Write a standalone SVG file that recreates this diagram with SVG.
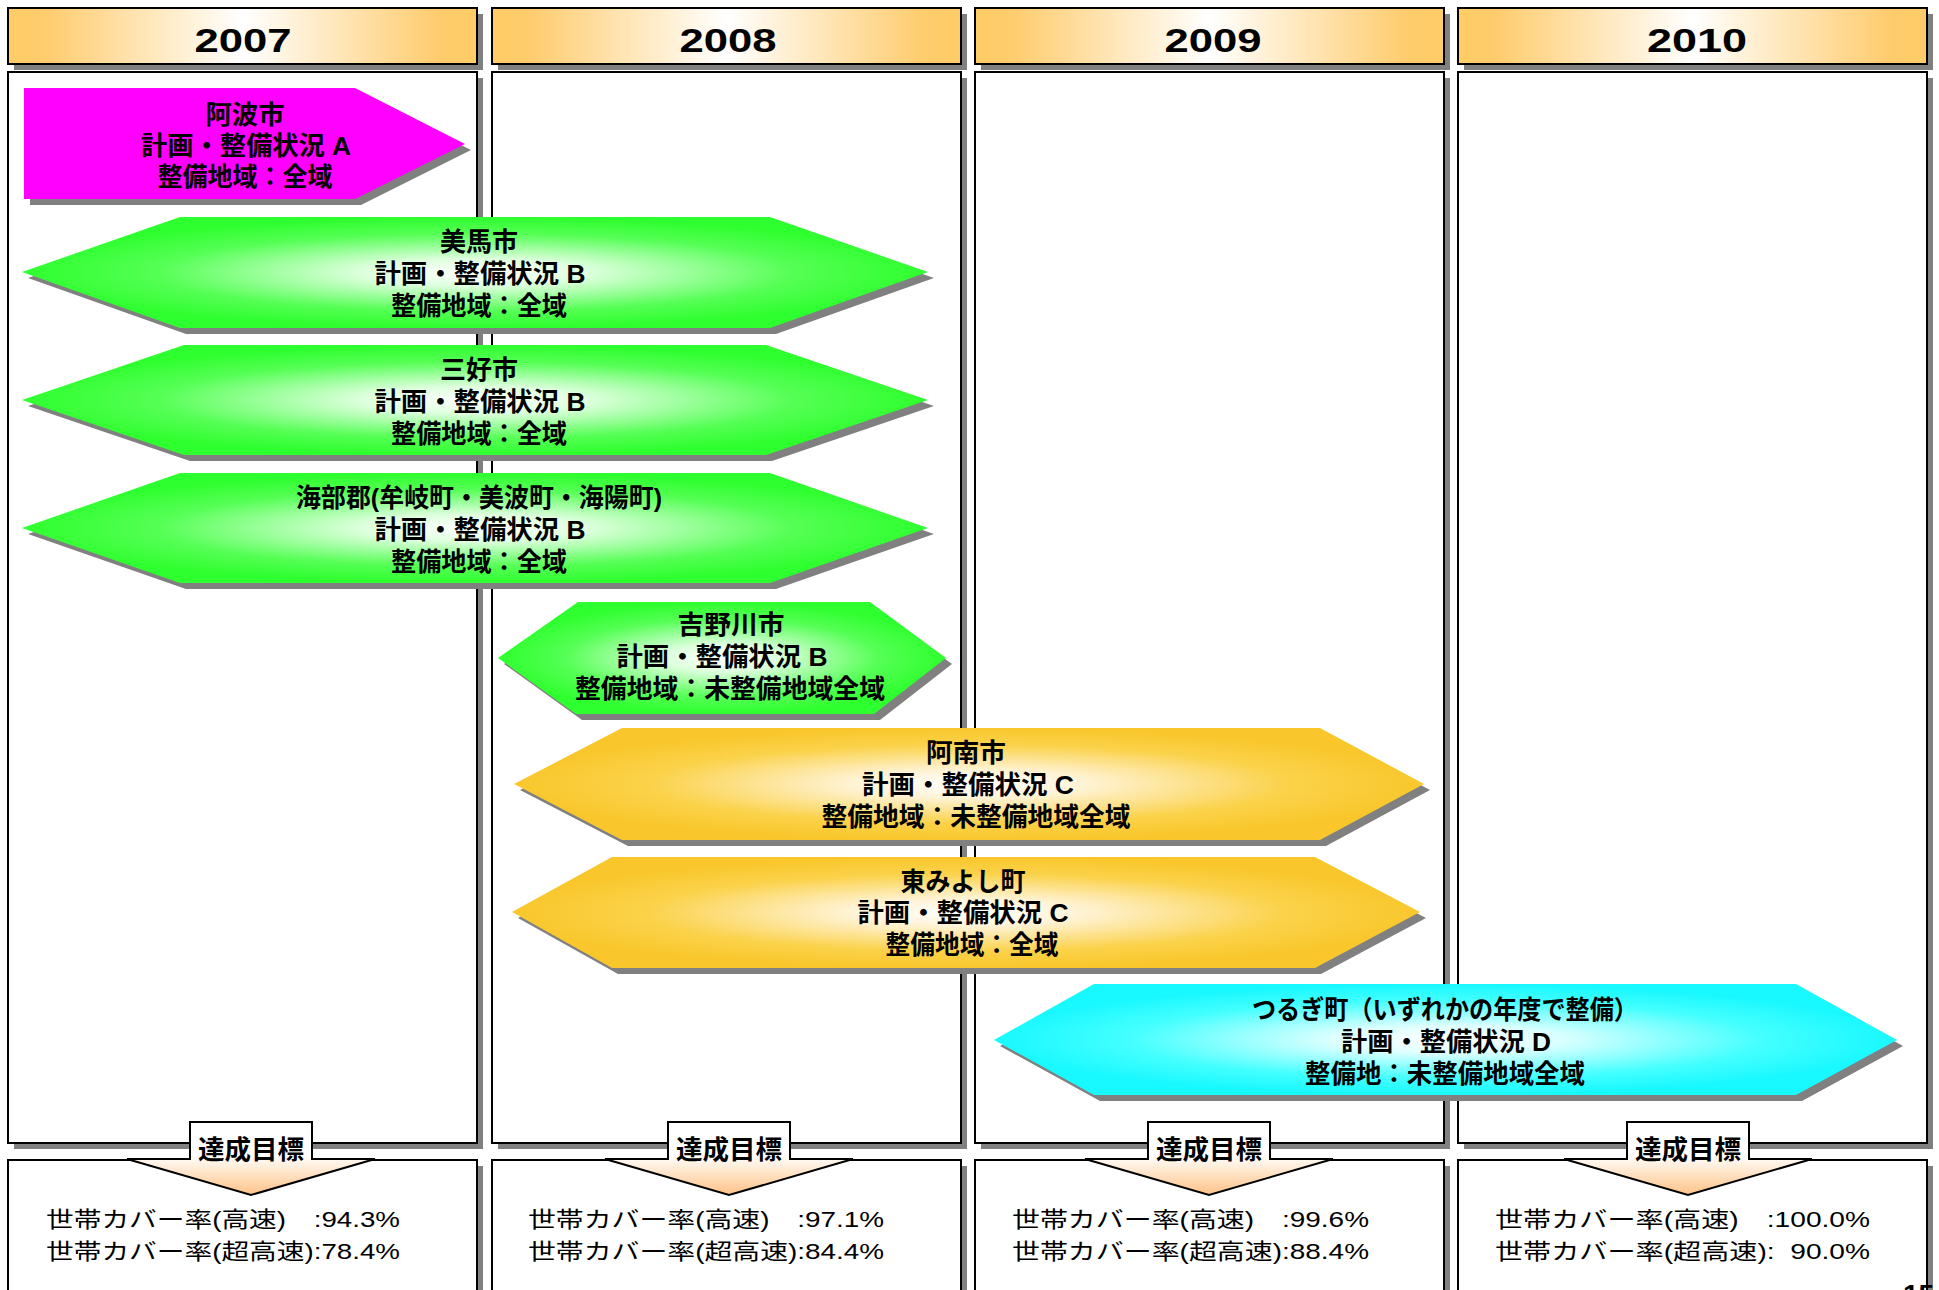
<svg xmlns="http://www.w3.org/2000/svg" width="1939" height="1290" viewBox="0 0 1939 1290">
<defs>
<linearGradient id="hdr" x1="0" y1="0" x2="1" y2="0">
<stop offset="0" stop-color="#FFCC66"/>
<stop offset="0.08" stop-color="#FFCC6E"/>
<stop offset="0.5" stop-color="#FFFFFF"/>
<stop offset="0.92" stop-color="#FFCC6E"/>
<stop offset="1" stop-color="#FFCC66"/>
</linearGradient>
<radialGradient id="grn" cx="0.5" cy="0.5" r="0.5">
<stop offset="0" stop-color="#FFFFFF"/>
<stop offset="0.25" stop-color="#DDFFDD"/>
<stop offset="0.7" stop-color="#55FF55"/>
<stop offset="1" stop-color="#2EFF2E"/>
</radialGradient>
<radialGradient id="org" cx="0.5" cy="0.5" r="0.5">
<stop offset="0" stop-color="#FFFFFF"/>
<stop offset="0.25" stop-color="#FFF3D6"/>
<stop offset="0.7" stop-color="#FBD24A"/>
<stop offset="1" stop-color="#F9C72C"/>
</radialGradient>
<radialGradient id="cyn" cx="0.5" cy="0.5" r="0.5">
<stop offset="0" stop-color="#FFFFFF"/>
<stop offset="0.25" stop-color="#DDFFFF"/>
<stop offset="0.7" stop-color="#44FFFF"/>
<stop offset="1" stop-color="#18F8FF"/>
</radialGradient>
<linearGradient id="goal" x1="0" y1="0" x2="0" y2="1">
<stop offset="0" stop-color="#FFFFFF"/>
<stop offset="0.45" stop-color="#FFFFFF"/>
<stop offset="1" stop-color="#FFC286"/>
</linearGradient>
<style>
.sh{fill:#808080}
.bx{fill:#FFFFFF;stroke:#000000;stroke-width:2}
.hd{fill:url(#hdr);stroke:#000000;stroke-width:2}
.yr{font-family:"Liberation Sans","Noto Sans",sans-serif;font-weight:700;font-size:34px;text-anchor:middle;fill:#000}
.t{font-family:"Liberation Sans","Noto Sans CJK JP",sans-serif;font-weight:700;font-size:26px;text-anchor:middle;fill:#000}
.lt{font-family:"Liberation Sans","Noto Sans CJK JP",sans-serif;font-weight:400;font-size:22px;fill:#000;white-space:pre}
.goal{fill:url(#goal);stroke:#000000;stroke-width:2}
</style>
</defs>
<rect width="1939" height="1290" fill="#FFFFFF"/>

<g id="columns">
<g id="col-2007">
<rect class="sh" x="14" y="14" width="469" height="56"/>
<rect class="hd" x="8" y="8" width="469" height="56"/>
<text class="yr" x="243" y="52" textLength="97" lengthAdjust="spacingAndGlyphs">2007</text>
<rect class="sh" x="14" y="78" width="469" height="1071"/>
<rect class="bx" x="8" y="72" width="469" height="1071"/>
<rect class="sh" x="14" y="1166" width="469" height="200"/>
<rect class="bx" x="8" y="1160" width="469" height="200"/>
</g>
<g id="col-2008">
<rect class="sh" x="498" y="14" width="469" height="56"/>
<rect class="hd" x="492" y="8" width="469" height="56"/>
<text class="yr" x="728" y="52" textLength="97" lengthAdjust="spacingAndGlyphs">2008</text>
<rect class="sh" x="498" y="78" width="469" height="1071"/>
<rect class="bx" x="492" y="72" width="469" height="1071"/>
<rect class="sh" x="498" y="1166" width="469" height="200"/>
<rect class="bx" x="492" y="1160" width="469" height="200"/>
</g>
<g id="col-2009">
<rect class="sh" x="981" y="14" width="469" height="56"/>
<rect class="hd" x="975" y="8" width="469" height="56"/>
<text class="yr" x="1213" y="52" textLength="97" lengthAdjust="spacingAndGlyphs">2009</text>
<rect class="sh" x="981" y="78" width="469" height="1071"/>
<rect class="bx" x="975" y="72" width="469" height="1071"/>
<rect class="sh" x="981" y="1166" width="469" height="200"/>
<rect class="bx" x="975" y="1160" width="469" height="200"/>
</g>
<g id="col-2010">
<rect class="sh" x="1464" y="14" width="469" height="56"/>
<rect class="hd" x="1458" y="8" width="469" height="56"/>
<text class="yr" x="1697" y="52" textLength="100" lengthAdjust="spacingAndGlyphs">2010</text>
<rect class="sh" x="1464" y="78" width="469" height="1071"/>
<rect class="bx" x="1458" y="72" width="469" height="1071"/>
<rect class="sh" x="1464" y="1166" width="469" height="200"/>
<rect class="bx" x="1458" y="1160" width="469" height="200"/>
</g>
</g>

<g id="node-awa">
<polygon class="sh" transform="translate(6,6)" points="24,88 355,88 465,144 355,199 24,199"/>
<polygon fill="#FF00FF" points="24,88 355,88 465,144 355,199 24,199"/>
<text class="t"><tspan x="245" y="124" textLength="79" lengthAdjust="spacingAndGlyphs">阿波市</tspan><tspan x="246" y="155" textLength="210" lengthAdjust="spacingAndGlyphs">計画・整備状況 A</tspan><tspan x="245" y="186" textLength="175" lengthAdjust="spacingAndGlyphs">整備地域：全域</tspan></text>
</g>

<g id="node-mima">
<polygon class="sh" transform="translate(6,6)" points="22,272 180,217 770,217 928,272 770,328 180,328"/>
<polygon fill="url(#grn)" points="22,272 180,217 770,217 928,272 770,328 180,328"/>
<text class="t"><tspan x="479" y="251" textLength="78" lengthAdjust="spacingAndGlyphs">美馬市</tspan><tspan x="480" y="283" textLength="211" lengthAdjust="spacingAndGlyphs">計画・整備状況 B</tspan><tspan x="479" y="315" textLength="176" lengthAdjust="spacingAndGlyphs">整備地域：全域</tspan></text>
</g>

<g id="node-miyoshi">
<polygon class="sh" transform="translate(6,6)" points="22,400 184,345 766,345 928,400 766,455 184,455"/>
<polygon fill="url(#grn)" points="22,400 184,345 766,345 928,400 766,455 184,455"/>
<text class="t"><tspan x="479" y="379" textLength="78" lengthAdjust="spacingAndGlyphs">三好市</tspan><tspan x="480" y="411" textLength="211" lengthAdjust="spacingAndGlyphs">計画・整備状況 B</tspan><tspan x="479" y="443" textLength="176" lengthAdjust="spacingAndGlyphs">整備地域：全域</tspan></text>
</g>

<g id="node-kaifu">
<polygon class="sh" transform="translate(6,6)" points="22,528 180,473 770,473 928,528 770,583 180,583"/>
<polygon fill="url(#grn)" points="22,528 180,473 770,473 928,528 770,583 180,583"/>
<text class="t"><tspan x="479" y="507" textLength="366" lengthAdjust="spacingAndGlyphs">海部郡(牟岐町・美波町・海陽町)</tspan><tspan x="480" y="539" textLength="211" lengthAdjust="spacingAndGlyphs">計画・整備状況 B</tspan><tspan x="479" y="571" textLength="176" lengthAdjust="spacingAndGlyphs">整備地域：全域</tspan></text>
</g>

<g id="node-yoshinogawa">
<polygon class="sh" transform="translate(6,6)" points="498,658 578,602 870,602 946,658 874,714 576,714"/>
<polygon fill="url(#grn)" points="498,658 578,602 870,602 946,658 874,714 576,714"/>
<text class="t"><tspan x="731" y="634" textLength="107" lengthAdjust="spacingAndGlyphs">吉野川市</tspan><tspan x="722" y="666" textLength="211" lengthAdjust="spacingAndGlyphs">計画・整備状況 B</tspan><tspan x="730" y="698" textLength="310" lengthAdjust="spacingAndGlyphs">整備地域：未整備地域全域</tspan></text>
</g>

<g id="node-anan">
<polygon class="sh" transform="translate(6,6)" points="514,784 622,728 1320,728 1424,784 1320,840 622,840"/>
<polygon fill="url(#org)" points="514,784 622,728 1320,728 1424,784 1320,840 622,840"/>
<text class="t"><tspan x="966" y="762" textLength="80" lengthAdjust="spacingAndGlyphs">阿南市</tspan><tspan x="968" y="794" textLength="212" lengthAdjust="spacingAndGlyphs">計画・整備状況 C</tspan><tspan x="976" y="826" textLength="309" lengthAdjust="spacingAndGlyphs">整備地域：未整備地域全域</tspan></text>
</g>

<g id="node-higashimiyoshi">
<polygon class="sh" transform="translate(6,6)" points="512,912 612,857 1315,857 1420,912 1315,968 612,968"/>
<polygon fill="url(#org)" points="512,912 612,857 1315,857 1420,912 1315,968 612,968"/>
<text class="t"><tspan x="963" y="891" textLength="125" lengthAdjust="spacingAndGlyphs">東みよし町</tspan><tspan x="963" y="922" textLength="211" lengthAdjust="spacingAndGlyphs">計画・整備状況 C</tspan><tspan x="972" y="954" textLength="173" lengthAdjust="spacingAndGlyphs">整備地域：全域</tspan></text>
</g>

<g id="node-tsurugi">
<polygon class="sh" transform="translate(6,6)" points="994,1040 1094,984 1796,984 1897,1040 1796,1095 1094,1095"/>
<polygon fill="url(#cyn)" points="994,1040 1094,984 1796,984 1897,1040 1796,1095 1094,1095"/>
<text class="t"><tspan x="1445" y="1019" textLength="386" lengthAdjust="spacingAndGlyphs">つるぎ町（いずれかの年度で整備）</tspan><tspan x="1446" y="1051" textLength="210" lengthAdjust="spacingAndGlyphs">計画・整備状況 D</tspan><tspan x="1445" y="1083" textLength="280" lengthAdjust="spacingAndGlyphs">整備地：未整備地域全域</tspan></text>
</g>

<g id="connectors">
<g id="goal-2007">
<path class="goal" d="M190,1122 H312 V1159 H375 L251,1195 L127,1159 H190 Z"/>
<text class="t" x="251" y="1159" textLength="106" lengthAdjust="spacingAndGlyphs">達成目標</text>
</g>
<g id="goal-2008">
<path class="goal" d="M668,1122 H790 V1159 H853 L729,1195 L605,1159 H668 Z"/>
<text class="t" x="729" y="1159" textLength="106" lengthAdjust="spacingAndGlyphs">達成目標</text>
</g>
<g id="goal-2009">
<path class="goal" d="M1148,1122 H1270 V1159 H1333 L1209,1195 L1085,1159 H1148 Z"/>
<text class="t" x="1209" y="1159" textLength="106" lengthAdjust="spacingAndGlyphs">達成目標</text>
</g>
<g id="goal-2010">
<path class="goal" d="M1627,1122 H1749 V1159 H1812 L1688,1195 L1564,1159 H1627 Z"/>
<text class="t" x="1688" y="1159" textLength="106" lengthAdjust="spacingAndGlyphs">達成目標</text>
</g>
</g>

<g id="targets">
<text class="lt"><tspan x="46" y="1227" textLength="354" lengthAdjust="spacingAndGlyphs">世帯カバー率(高速)　:94.3%</tspan><tspan x="46" y="1259" textLength="354" lengthAdjust="spacingAndGlyphs">世帯カバー率(超高速):78.4%</tspan></text>
<text class="lt"><tspan x="528" y="1227" textLength="356" lengthAdjust="spacingAndGlyphs">世帯カバー率(高速)　:97.1%</tspan><tspan x="528" y="1259" textLength="356" lengthAdjust="spacingAndGlyphs">世帯カバー率(超高速):84.4%</tspan></text>
<text class="lt"><tspan x="1012" y="1227" textLength="357" lengthAdjust="spacingAndGlyphs">世帯カバー率(高速)　:99.6%</tspan><tspan x="1012" y="1259" textLength="357" lengthAdjust="spacingAndGlyphs">世帯カバー率(超高速):88.4%</tspan></text>
<text class="lt"><tspan x="1495" y="1227" textLength="375" lengthAdjust="spacingAndGlyphs">世帯カバー率(高速)　:100.0%</tspan><tspan x="1495" y="1259" textLength="375" lengthAdjust="spacingAndGlyphs">世帯カバー率(超高速):  90.0%</tspan></text>
</g>

<text x="1903" y="1304" font-family="Liberation Sans, sans-serif" font-weight="700" font-size="28" fill="#000">15</text>
</svg>
